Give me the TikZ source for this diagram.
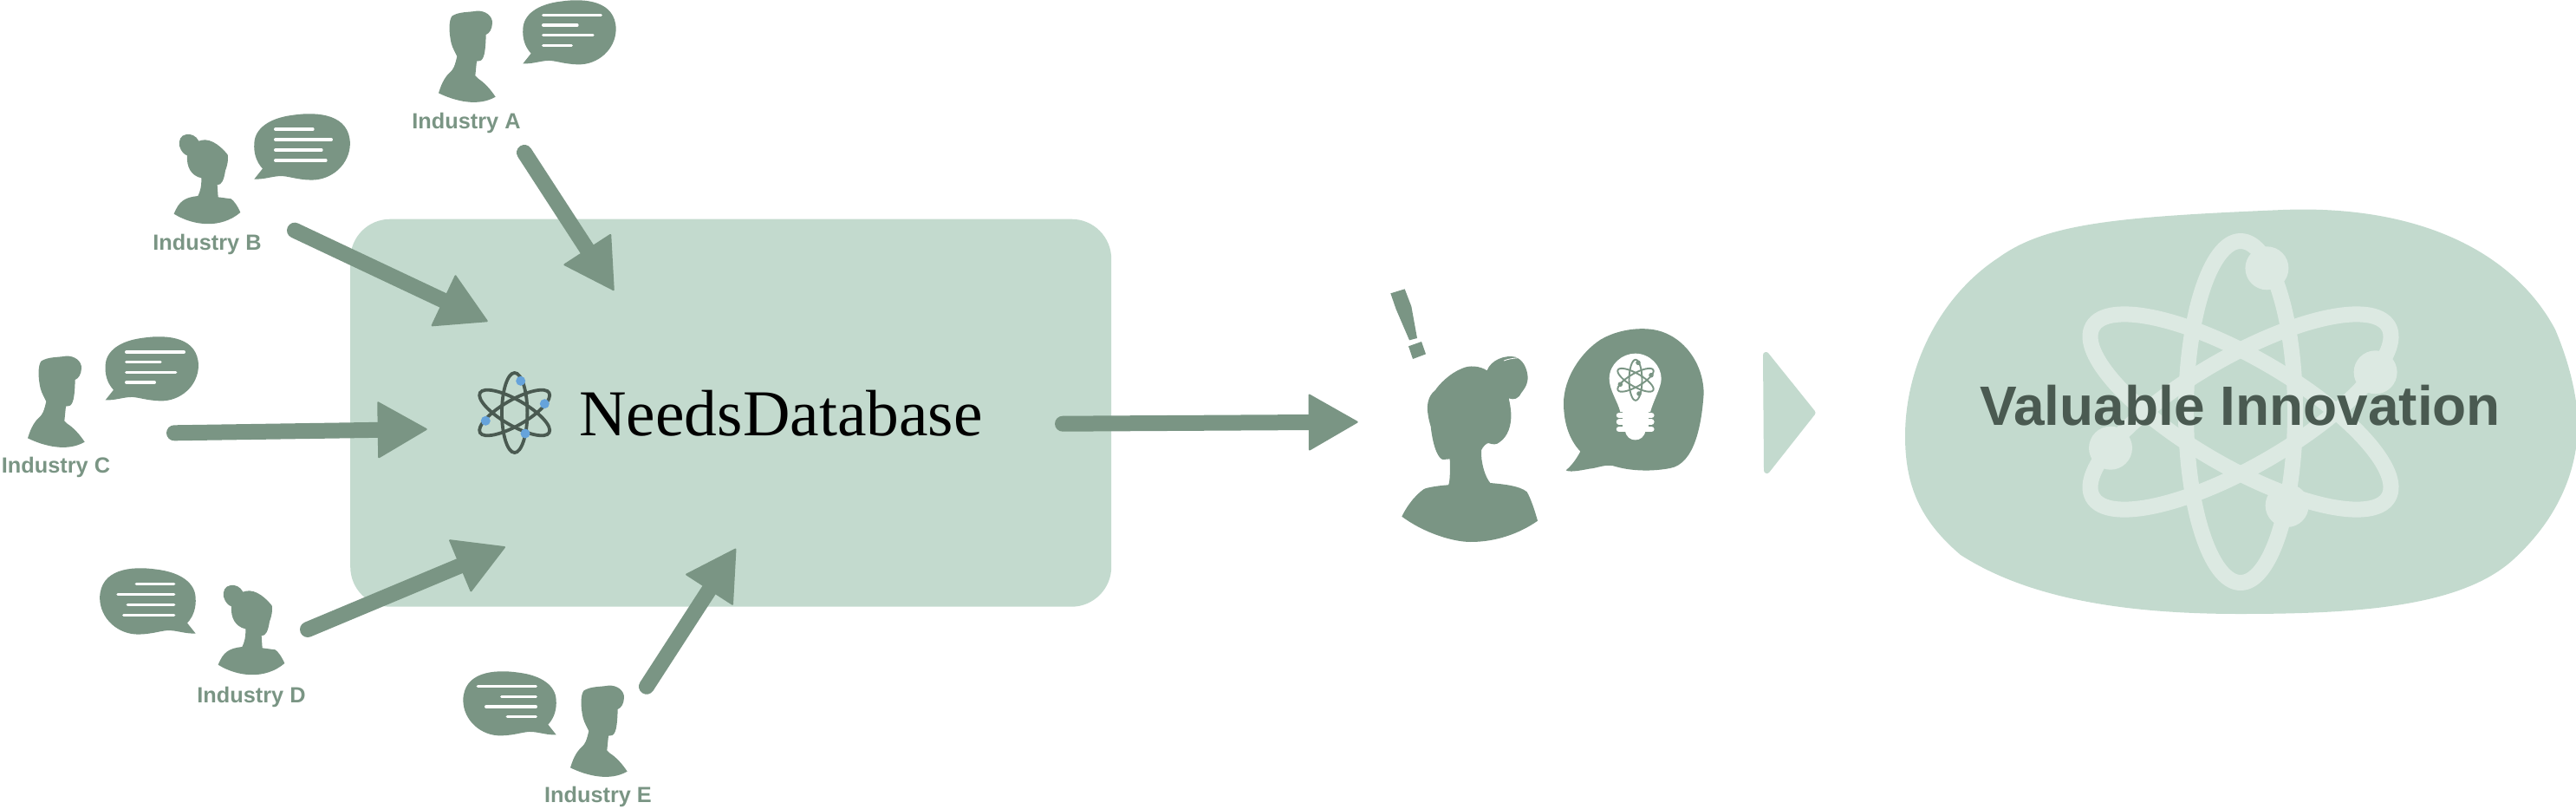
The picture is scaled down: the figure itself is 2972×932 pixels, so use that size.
\documentclass[tikz,border=0pt]{standalone}
\usepackage{fontspec}
\setmainfont{Liberation Serif}
\newfontfamily\labfont{Liberation Sans}
\usetikzlibrary{arrows.meta}
\definecolor{sil}{HTML}{7A9584}
\definecolor{pale}{HTML}{C3DACE}
\definecolor{paler}{HTML}{DCE9E2}
\definecolor{ink}{HTML}{4A5A51}
\definecolor{elec}{HTML}{66A3DB}
\tikzset{
  arrowline/.style={draw=sil,line width=18pt,line cap=round,
    -{Triangle[length=58pt,width=66pt,line width=2pt,round,fill=sil]}},
  tl/.style={draw=white,line width=3.3pt,line cap=round},
  lab/.style={text=sil,anchor=base,inner sep=0pt,font=\labfont\bfseries\fontsize{25.3}{30}\selectfont},
  man/.pic={\fill[sil,scale=1/3] (168,322) .. controls (225,350) and (305,370) .. (365,335)
    .. controls (345,305) and (325,285) .. (305,272) -- (295,262) -- (300,212)
    .. controls (320,213) and (330,205) .. (332,120)
    .. controls (345,115) and (353,100) .. (354,80)
    .. controls (355,55) and (330,36) .. (300,38)
    .. controls (270,43) and (240,40) .. (215,55)
    .. controls (203,70) and (203,110) .. (212,150)
    .. controls (218,170) and (225,180) .. (232,195)
    .. controls (225,225) and (220,240) .. (208,250)
    .. controls (185,270) and (175,300) .. (168,322) -- cycle;},
  woman/.pic={\fill[sil,scale=1/3] (122,380) .. controls (190,422) and (285,432) .. (352,375)
    .. controls (342,352) and (330,335) .. (320,328) -- (275,322) -- (272,280)
    .. controls (288,280) and (295,262) .. (300,230)
    .. controls (310,205) and (310,185) .. (308,175)
    .. controls (275,135) and (240,115) .. (208,128)
    .. controls (200,110) and (180,102) .. (165,105)
    .. controls (145,108) and (138,125) .. (141,145)
    .. controls (147,165) and (158,175) .. (168,178)
    .. controls (165,215) and (180,248) .. (217,256)
    .. controls (218,285) and (212,305) .. (205,318)
    .. controls (160,323) and (140,335) .. (122,380) -- cycle;},
  bubble/.pic={\fill[sil,scale=1/3] (460,220) -- (488,185)
    .. controls (465,160) and (458,130) .. (460,100)
    .. controls (462,50) and (510,15) .. (590,5)
    .. controls (680,-8) and (780,5) .. (782,100)
    .. controls (782,170) and (720,225) .. (650,223)
    .. controls (600,222) and (570,208) .. (545,210)
    .. controls (520,211) and (490,222) .. (460,220) -- cycle;},
  thinker/.pic={
    \begin{scope}[scale=1/3]
    \fill[sil] (112,857) .. controls (190,915) and (290,945) .. (350,945)
      .. controls (440,945) and (520,915) .. (582,872)
      .. controls (565,810) and (550,780) .. (545,772)
      .. controls (520,750) and (460,745) .. (418,741)
      .. controls (400,720) and (385,670) .. (387,628)
      .. controls (392,615) and (405,603) .. (412,603)
      .. controls (425,608) and (440,610) .. (450,600)
      .. controls (480,580) and (492,540) .. (490,500)
      .. controls (488,470) and (482,450) .. (482,448)
      .. controls (500,455) and (515,450) .. (525,430)
      .. controls (545,405) and (548,390) .. (548,375)
      .. controls (545,340) and (530,315) .. (505,305)
      .. controls (470,297) and (420,315) .. (407,352)
      .. controls (380,335) and (345,333) .. (320,345)
      .. controls (280,360) and (240,400) .. (228,420)
      .. controls (200,440) and (198,480) .. (202,500)
      .. controls (205,525) and (212,545) .. (212,545)
      .. controls (220,620) and (240,660) .. (255,660)
      -- (278,658) .. controls (280,700) and (278,748) .. (272,748)
      .. controls (240,750) and (195,757) .. (187,763)
      .. controls (150,790) and (125,830) .. (112,857) -- cycle;
    \draw[white,line width=.8pt] (465,318) .. controls (480,312) and (495,310) .. (515,308);
    \fill[sil] (73,85) -- (122,70) -- (145,130) -- (165,240) -- (138,247) -- (92,140) -- cycle;
    \fill[sil] (135,268) -- (180,252) -- (195,295) -- (150,312) -- cycle;
    \fill[sil] (680,697) .. controls (700,680) and (715,660) .. (730,632)
      .. controls (690,590) and (672,530) .. (672,465)
      .. controls (672,380) and (730,290) .. (800,245)
      .. controls (860,210) and (930,203) .. (980,210)
      .. controls (1080,225) and (1155,320) .. (1157,430)
      .. controls (1150,540) and (1125,675) .. (1040,690)
      .. controls (960,705) and (890,695) .. (855,685)
      .. controls (820,672) and (790,690) .. (760,692)
      .. controls (720,700) and (690,704) .. (680,697) -- cycle;
    \fill[white] (868,495) .. controls (860,460) and (830,420) .. (830,380)
      .. controls (830,330) and (875,293) .. (920,293)
      .. controls (970,293) and (1010,335) .. (1010,380)
      .. controls (1010,410) and (985,450) .. (972,495) -- cycle;
    \fill[white] (875,490) rectangle (965,565);
    \fill[white] (885,560) .. controls (890,603) and (950,603) .. (955,560) -- cycle;
    \draw[white,line width=6.5pt,line cap=round] (864,507) -- (976,507) (864,530) -- (976,530) (864,555) -- (976,555);
    \end{scope}
  },
}
\newcommand{\atomrings}[5]{% x y a b width
  \begin{scope}[shift={(#1,#2)}]
    \foreach \r in {90,30,-30}
      \draw[line width=#5pt,rotate=\r] (0,0) ellipse [x radius=#3pt,y radius=#4pt];
  \end{scope}}
\begin{document}
\begin{tikzpicture}[x=1pt,y=-1pt]
\useasboundingbox (0,0) rectangle (2972,932);

% database panel
\node[fill=pale,rounded corners=46pt,minimum width=878pt,minimum height=447pt,inner sep=0pt,anchor=north west] (db) at (404,252.5) {};
\begin{scope}[draw=ink]
  \atomrings{593.7}{476}{46}{14.7}{3.8}
\end{scope}
\fill[elec] (600.7,439.3) circle [radius=5.5pt] (628.3,465.7) circle [radius=5.5pt]
  (560.3,485.3) circle [radius=5.5pt] (606,500) circle [radius=5.5pt];
\node[anchor=base,inner sep=0pt,font=\fontsize{75.5}{80}\selectfont,text=black] (needs) at (901,502.7) {NeedsDatabase};

% people and speech
\pic (manA) at (450,0) {man};
\pic (bubA) at (450,0) {bubble};
\draw[tl] (626.7,17.3) -- (693.3,17.3) (626.7,29) -- (666,29) (626.7,40.7) -- (684,40.7) (626.7,52.3) -- (659.3,52.3);
\node[lab] (labA) at (538,148) {Industry A};

\pic (womB) at (160,120) {woman};
\pic[xscale=1.03,yscale=1.03] (bubB) at (135.4,131) {bubble};
\draw[tl] (317.7,149) -- (361,149) (317.7,161) -- (382.3,161) (317.7,173) -- (371,173) (317.7,185) -- (376,185);
\node[lab] (labB) at (239,288.7) {Industry B};

\pic (manC) at (-24,398) {man};
\pic (bubC) at (-31.7,388) {bubble};
\draw[tl] (145.7,406) -- (212.3,406) (145.7,417.7) -- (185,417.7) (145.7,429.3) -- (202.7,429.3) (145.7,441) -- (178.3,441);
\node[lab] (labC) at (64.5,545.7) {Industry C};

\pic (womD) at (211,640) {woman};
\pic[xscale=-1.03,yscale=1.03] (bubD) at (383.6,655) {bubble};
\draw[tl] (157.3,673.3) -- (200.7,673.3) (136,685.3) -- (200.7,685.3) (147.3,697.3) -- (200.7,697.3) (142.7,709.3) -- (200.7,709.3);
\node[lab] (labD) at (290,810) {Industry D};

\pic (manE) at (602,778) {man};
\pic[xscale=-1] (bubE) at (795,774) {bubble};
\draw[tl] (551.3,791.7) -- (618.3,791.7) (578.7,803.3) -- (618.3,803.3) (560.7,815) -- (618.3,815) (585.3,826.7) -- (618.3,826.7);
\node[lab] (labE) at (690,925) {Industry E};

% arrows
\coordinate (aS) at (605,176);   \coordinate (aT) at (708.3,335);
\coordinate (bS) at (340,265.7); \coordinate (bT) at (562.7,370.7);
\coordinate (cS) at (201,499.3); \coordinate (cT) at (492.7,495);
\coordinate (dS) at (355,726);   \coordinate (dT) at (582.9,630.7);
\coordinate (eS) at (746,791.7); \coordinate (eT) at (849,632.7);
\coordinate (mS) at (1226,488.7);\coordinate (mT) at (1566.7,486.7);
\draw[arrowline] (aS) -- (aT);
\draw[arrowline] (bS) -- (bT);
\draw[arrowline] (cS) -- (cT);
\draw[arrowline] (dS) -- (dT);
\draw[arrowline] (eS) -- (eT);
\draw[arrowline] (mS) -- (mT);

% thinker with idea
\pic (idea) at (1580,310) {thinker};
\begin{scope}[draw=sil]
  \atomrings{1887}{438.3}{23.5}{7.5}{1.9}
\end{scope}
\fill[sil] (1890,418.3) circle [radius=2.8pt] (1905,432.7) circle [radius=2.8pt]
  (1869.3,443.3) circle [radius=2.8pt] (1891,454) circle [radius=2.8pt];

% triangle
\filldraw[pale,line width=7pt,line join=round] (2037.5,409.5) -- (2091,476) -- (2038.5,542.5) -- cycle;

% innovation blob
\fill[pale] (2198,503) .. controls (2198,420) and (2240,340) .. (2306,297)
  .. controls (2360,258) and (2440,250) .. (2634,242)
  .. controls (2790,236) and (2900,290) .. (2948,380)
  .. controls (2965,420) and (2974,460) .. (2974,490)
  .. controls (2974,530) and (2960,590) .. (2900,645)
  .. controls (2840,700) and (2720,708) .. (2584,708)
  .. controls (2450,708) and (2340,690) .. (2262,640)
  .. controls (2215,600) and (2198,560) .. (2198,503) -- cycle;
\begin{scope}[draw=paler]
  \atomrings{2585}{475}{197}{63}{18}
\end{scope}
\fill[paler] (2615.4,309.3) circle [radius=25pt] (2740.6,429.3) circle [radius=25pt]
  (2435,516.7) circle [radius=25pt] (2638.6,583) circle [radius=25pt];
\node[anchor=base,inner sep=0pt,text=ink,font=\labfont\bfseries\fontsize{64}{70}\selectfont] (value) at (2584.5,490.7) {Valuable Innovation};
\end{tikzpicture}
\end{document}
